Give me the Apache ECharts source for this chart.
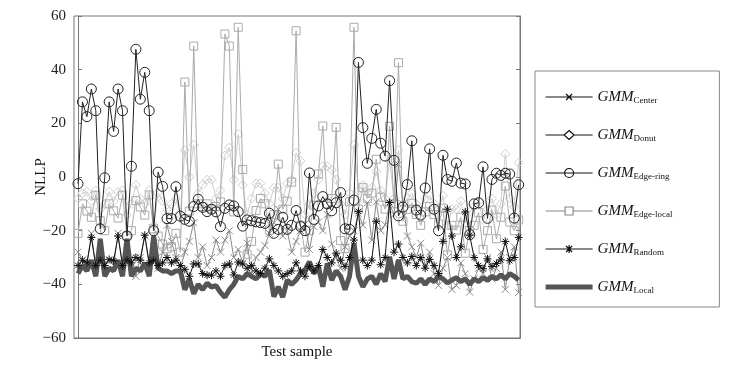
<!DOCTYPE html>
<html><head><meta charset="utf-8">
<script src="https://cdn.jsdelivr.net/npm/echarts@6/dist/echarts.min.js"></script>
<style>html,body{margin:0;padding:0;background:#fff}#c{width:736px;height:366px}</style>
</head><body><div id="c"></div>
<script>
const yTicks = [-60, -40, -20, 0, 20, 40, 60];
const seriesNames = ['Center', 'Donut', 'Edge-ring', 'Edge-local', 'Random', 'Local'];

const gmmCenter = [-28,-31,-33,-21,-34,-30,-33,-31,-33,-21,-33,-29,-30,-37,-30,-22,-33,-26,-34,-28,
  -18,-24,-30,-34,-28,-24,-17,-30,-26,-33,-30,-23.5,-28,-23.5,-20,-30,-27,-32,-24.7,-36,
  -30,-28,-25.5,-21,-17,-12,-22,-20,-28,-24,-20,-17.5,-27,-18.5,-16.8,-20,-14,-25,-30,-34,
  -26,-22,-20,-13.5,-18,-9.6,-23.5,-9.3,-20,-17.8,-10,-14,4.6,-10,-22,-26,-30,-24.7,-33,-28,
  -36,-40.4,-34,-30,-41.9,-40.4,-32,-36,-42.9,-38,-34,-36,-30,-38,-34,-28,-41.9,-30,-26,-43];

const gmmDonut = [-8,-6,-5.5,-9,-5,-12,-10,-5.5,-9,-5.5,-5,-14,-10,-3,-8,-10,-5,-18,-6,-9,
  -12,-10,-8,-14,10,0,12,-6,-3,-1,-1,-8,-5,8,11,-1,16,-3,-14,-8,
  -2.4,-2.4,-6,-10,-4,-4,-8,-2.4,-1,9,6,-14,-10,-6,-1,4,4,2.6,-1,-10,
  -14,-6,12,-5,-3,-6,-4,2,-5,-8,6,-8,10,-10,-8,-6,-10,-12,-8,-7,
  -10,-12,-7,-18,-12,-12,-9,-17,-13,-11,-9,-16,-12,-8,-14,-10,8.6,-8,-11,5.3];

const gmmEdgeRing = [-2.5,28,22.5,32.8,24.7,-19.3,-0.3,28,17,32.8,24.7,-22,4,47.6,29,39,24.7,-20,1.8,-3.5,
  -15.5,-15.5,-3.6,-14.6,-15.8,-16.5,-11,-8.3,-11.3,-12.9,-12,-13,-18.5,-11.7,-10.4,-10.8,-12.9,-18.3,-16,-16.3,
  -16.7,-17,-17.3,-13.5,-21,-19.5,-15,-19.5,-18,-12.5,-18.5,-20,1.5,-15.8,-10.8,-7.3,-10,-12.6,-9.6,-5.8,
  -19.3,-19.5,-8.6,42.7,18.4,5.1,14.4,25.2,12.6,7.8,35.9,6.2,-14.5,-11.2,-2.8,13.5,-12.3,-14.2,-4.1,10.5,
  -12,-20,8.1,-0.9,-1.6,5.2,-2.3,-2.6,-21.5,-10,-9.6,3.8,-15.4,-0.9,1.4,0.6,1.4,1.1,-15.3,-2.9];

const gmmEdgeLocal = [-21,-10,-12.7,-15,-6.8,-16.3,-20,-10,-12.6,-15.3,-6.8,-22,-20,-8.8,-11.2,-14.2,-6.7,-19.3,-22,-25,
  -26.7,-26,-21,-28,35.4,-12.7,48.8,-10,-11,-10,-12,-11,-9.3,53.3,48.8,-13,55.8,2.8,-28.8,-24,
  -12.5,-8,-10,-19.8,-14,4.8,-12,-9,-1.9,54.5,-18,-28,-20,-10.5,1.1,19,-10,-8,18.5,-23.7,
  -26.7,-9.2,55.8,-12,-4,-8,-6,6.6,-7.5,-12,18.9,-10,42.6,-16.5,-12,-9.8,-14,-18,-13,-11,
  -14,-17.5,-11.6,-29,-18,-19.8,-15,-28.4,-20,-18,-13.3,-27,-20,-12.3,-23,-15,-3.4,-16.8,-20,-16];

const gmmRandom = [-33,-31,-32,-22.5,-33,-31,-33,-30.7,-31.2,-22,-33,-31,-32,-30,-31,-21.7,-32,-31,-33,-32,
  -30,-32,-31,-33,-34.4,-37,-32.4,-32.4,-36,-36.6,-36.6,-35,-37,-33,-32.4,-36.5,-31.7,-32.4,-34,-33,
  -35,-36,-34,-30.5,-33,-35,-37,-36,-35,-32,-35,-37,-33.4,-35,-33,-27,-30,-32,-28.4,-31,
  -33.4,-30,-23.5,-12.8,-31,-33,-31,-16.5,-32.7,-30,-9.5,-28,-25,-30,-32,-29.6,-33,-30,-34,-30.7,
  -33,-36,-24,-12,-22,-30,-26,-13,-21.7,-30,-33,-34.2,-30.5,-33.4,-32.2,-30.9,-24,-31.2,-30,-22.5];

const gmmLocal = [-36,-33,-35,-31,-37,-23,-37,-34,-35,-31,-37,-23,-37,-34,-35,-32,-37,-22,-34,-35,
  -35,-36,-35,-35,-42,-38,-43.5,-40,-42,-39.6,-41,-40.5,-43,-44.8,-42,-40,-37,-38,-36,-37,
  -38,-36,-37,-34.7,-44.6,-40.9,-44.8,-38.4,-40,-38.4,-36,-34.7,-31.6,-35.9,-33.4,-40.9,-32.2,-38.4,-35,-37,
  -42,-37,-24.7,-37,-40.9,-38,-37,-40,-36,-39,-29.7,-38,-30.9,-38,-37,-39,-39.6,-38,-40,-38,
  -39,-37,-38,-39.5,-38.4,-37.5,-39,-38,-40,-38,-39,-37.5,-38.5,-37,-38,-36.5,-38,-36,-37,-38.4];

const values = [gmmCenter, gmmDonut, gmmEdgeRing, gmmEdgeLocal, gmmRandom, gmmLocal];

const serif = 'Liberation Serif';
const xMark = 'path://M0,0L10,10M10,0L0,10';
const star = 'path://M5,0L5,10M0,5L10,5M1.6,1.6L8.4,8.4M8.4,1.6L1.6,8.4';
const styles = [
  {color:'#8a8a8a', symbol:xMark, size:7, lw:1, z:4},
  {color:'#cfcfcf', symbol:'diamond', size:9, lw:1, z:2},
  {color:'#222222', symbol:'circle', size:10, lw:1, z:6},
  {color:'#ababab', symbol:'rect', size:8, lw:1, z:3},
  {color:'#111111', symbol:star, size:8, lw:1, z:7},
  {color:'#555555', symbol:'none', size:0, lw:5, z:5}
];

// legend icons: line + marker, drawn in a 47 x 9 box
const legendIcons = [
  'path://M0,4.5L47,4.5M20.5,1.5L26.5,7.5M26.5,1.5L20.5,7.5',
  'path://M0,4.5L18.5,4.5M28.5,4.5L47,4.5M23.5,0L28.5,4.5L23.5,9L18.5,4.5Z',
  'path://M0,4.5L47,4.5M28,4.5A4.5,4.5,0,1,1,19,4.5A4.5,4.5,0,1,1,28,4.5',
  'path://M0,4.5L19.5,4.5M27.5,4.5L47,4.5M19.5,0.5L27.5,0.5L27.5,8.5L19.5,8.5Z',
  'path://M0,4.5L47,4.5M23.5,0.5L23.5,8.5M20.5,1.5L26.5,7.5M26.5,1.5L20.5,7.5',
  'path://M0,2L47,2L47,7L0,7Z'
];
const legendColors = ['#111', '#111', '#111', '#888', '#111', '#555'];

const series = seriesNames.map((n, k) => {
  const st = styles[k];
  return {
    name: n, type: 'line', z: st.z,
    data: values[k].map((v, i) => [i, v]),
    symbol: st.symbol, symbolSize: st.size, showSymbol: st.symbol !== 'none',
    lineStyle: {color: st.color, width: st.lw},
    itemStyle: {color: 'rgba(0,0,0,0)', borderColor: st.color, borderWidth: 1},
    emphasis: {disabled: true}, animation: false
  };
});

const legendData = seriesNames.map((n, k) => ({
  name: n,
  icon: legendIcons[k],
  itemStyle: k === 5
    ? {color: legendColors[k], borderWidth: 0}
    : {color: 'rgba(0,0,0,0)', borderColor: legendColors[k], borderWidth: 1.2}
}));

const chart = echarts.init(document.getElementById('c'), null, {renderer: 'canvas'});
chart.setOption({
  backgroundColor: '#fff',
  animation: false,
  grid: {left: 74, right: 216, top: 16, bottom: 28, show: true, borderColor: '#777', borderWidth: 1},
  xAxis: {type: 'value', min: -0.9, max: 99.3, name: 'Test sample', nameLocation: 'middle', nameGap: 7,
    nameTextStyle: {fontFamily: serif, fontSize: 15, color: '#111'},
    axisLine: {show: true, onZero: false, lineStyle: {color: '#777'}}, axisTick: {show: false}, axisLabel: {show: false}, splitLine: {show: false}},
  yAxis: [
    {type: 'value', min: yTicks[0], max: yTicks[yTicks.length-1], interval: 20, name: 'NLLP', nameLocation: 'middle', nameGap: 25,
     nameMoveOverlap: false,
     nameTextStyle: {fontFamily: serif, fontSize: 15, color: '#111'},
     axisLine: {show: true, lineStyle: {color: '#777'}}, axisTick: {show: true, inside: true, length: 4, lineStyle: {color: '#777'}},
     axisLabel: {fontFamily: serif, fontSize: 15, color: '#222', margin: 8, formatter: v => String(v).replace('-', '\u2212')},
     splitLine: {show: false}},
    {type: 'value', position: 'right', min: yTicks[0], max: yTicks[yTicks.length-1], interval: 20,
     axisLine: {show: true, lineStyle: {color: '#777'}}, axisTick: {show: true, inside: true, length: 4, lineStyle: {color: '#777'}},
     axisLabel: {show: false}, splitLine: {show: false}}
  ],
  legend: {
    orient: 'vertical', left: 535, top: 71, itemWidth: 47, itemHeight: 9, itemGap: 22,
    padding: [18, 47, 12, 10], borderColor: '#888', borderWidth: 1, backgroundColor: '#fff',
    data: legendData,
    formatter: n => '{i|GMM}{s|' + n + '}',
    textStyle: {rich: {
      i: {fontFamily: serif, fontStyle: 'italic', fontSize: 15, color: '#111', lineHeight: 18},
      s: {fontFamily: serif, fontSize: 9, color: '#111', lineHeight: 18, padding: [7, 0, 0, 0]}
    }}
  },
  series: series
});
</script></body></html>
